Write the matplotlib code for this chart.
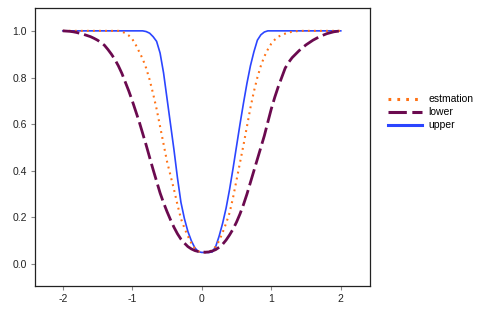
import numpy as np
import matplotlib
matplotlib.use('Agg')
import matplotlib.pyplot as plt

plt.rcParams['font.family'] = ['Liberation Sans', 'DejaVu Sans']

x = np.round(np.arange(-2.0, 2.001, 0.05), 2)

estimation = [1.0, 1.0, 1.0, 1.0, 1.0, 1.0, 1.0, 1.0, 1.0, 1.0,
              1.0, 1.0, 1.0, 1.0, 1.0, 1.0, 1.0, 0.997, 0.99, 0.98,
              0.965, 0.94, 0.91, 0.88, 0.84, 0.79, 0.73, 0.665, 0.59, 0.515,
              0.44, 0.38, 0.32, 0.255, 0.195, 0.155, 0.12, 0.09, 0.068, 0.055,
              0.05, 0.05, 0.052, 0.06, 0.075, 0.10, 0.135, 0.175, 0.22, 0.285,
              0.36, 0.435, 0.51, 0.59, 0.67, 0.74, 0.80, 0.85, 0.89, 0.92,
              0.945, 0.962, 0.975, 0.982, 0.988, 0.993, 0.996, 0.998, 1.0, 1.0,
              1.0, 1.0, 1.0, 1.0, 1.0, 1.0, 1.0, 1.0, 1.0, 1.0,
              1.0]
lower = [1.0, 0.999, 0.998, 0.996, 0.993, 0.989, 0.985, 0.98, 0.975, 0.968,
         0.96, 0.95, 0.938, 0.92, 0.90, 0.877, 0.85, 0.818, 0.78, 0.742,
         0.70, 0.655, 0.61, 0.56, 0.51, 0.457, 0.405, 0.355, 0.305, 0.263,
         0.225, 0.19, 0.158, 0.13, 0.107, 0.09, 0.075, 0.065, 0.058, 0.054,
         0.052, 0.051, 0.052, 0.056, 0.062, 0.072, 0.085, 0.103, 0.125, 0.15,
         0.18, 0.215, 0.255, 0.30, 0.35, 0.40, 0.45, 0.50, 0.55, 0.608,
         0.665, 0.715, 0.76, 0.80, 0.84, 0.865, 0.885, 0.90, 0.915, 0.928,
         0.94, 0.95, 0.96, 0.968, 0.976, 0.982, 0.988, 0.992, 0.996, 0.998,
         1.0]
upper = [1.0, 1.0, 1.0, 1.0, 1.0, 1.0, 1.0, 1.0, 1.0, 1.0,
         1.0, 1.0, 1.0, 1.0, 1.0, 1.0, 1.0, 1.0, 1.0, 1.0,
         1.0, 1.0, 1.0, 1.0, 0.997, 0.99, 0.975, 0.955, 0.905, 0.82,
         0.71, 0.60, 0.49, 0.37, 0.265, 0.195, 0.14, 0.10, 0.07, 0.053,
         0.05, 0.05, 0.05, 0.052, 0.075, 0.12, 0.175, 0.24, 0.32, 0.41,
         0.505, 0.60, 0.69, 0.775, 0.85, 0.91, 0.96, 0.983, 0.995, 1.0,
         1.0, 1.0, 1.0, 1.0, 1.0, 1.0, 1.0, 1.0, 1.0, 1.0,
         1.0, 1.0, 1.0, 1.0, 1.0, 1.0, 1.0, 1.0, 1.0, 1.0,
         1.0]

fig = plt.figure(figsize=(4.9, 3.28), dpi=100)
ax = fig.add_axes([0.0714, 0.128, 0.755 - 0.0714, 0.9756 - 0.128])

ax.plot(x, estimation, color='#ff7215', linestyle=(0, (0.9, 2.0)), lw=1.5,
        label='estmation', zorder=3)
ax.plot(x, lower, color='#6b0a4f', linestyle=(0, (6, 1.8)), lw=2.0,
        label='lower', zorder=4)
ax.plot(x, upper, color='#2b45ff', lw=1.2, label='upper', zorder=2)

ax.set_xlim(-2.4, 2.42)
ax.set_ylim(-0.094, 1.098)
ax.set_xticks([-2, -1, 0, 1, 2])
ax.set_xticklabels(['-2', '-1', '0', '1', '2'])
ax.set_yticks([0.0, 0.2, 0.4, 0.6, 0.8, 1.0])
ax.tick_params(length=3, width=0.8, color='#888888', labelsize=7.5,
               labelcolor='#222222', pad=3)
for s in ax.spines.values():
    s.set_linewidth(0.9)
    s.set_color('#222222')

leg = ax.legend(loc='upper left', bbox_to_anchor=(1.04, 0.705), frameon=False,
                fontsize=7.5, handlelength=3.3, handletextpad=0.6,
                labelspacing=0.3, borderaxespad=0)
for h in leg.get_lines():
    h.set_linewidth(2.2)

fig.savefig('out.png', dpi=100)
